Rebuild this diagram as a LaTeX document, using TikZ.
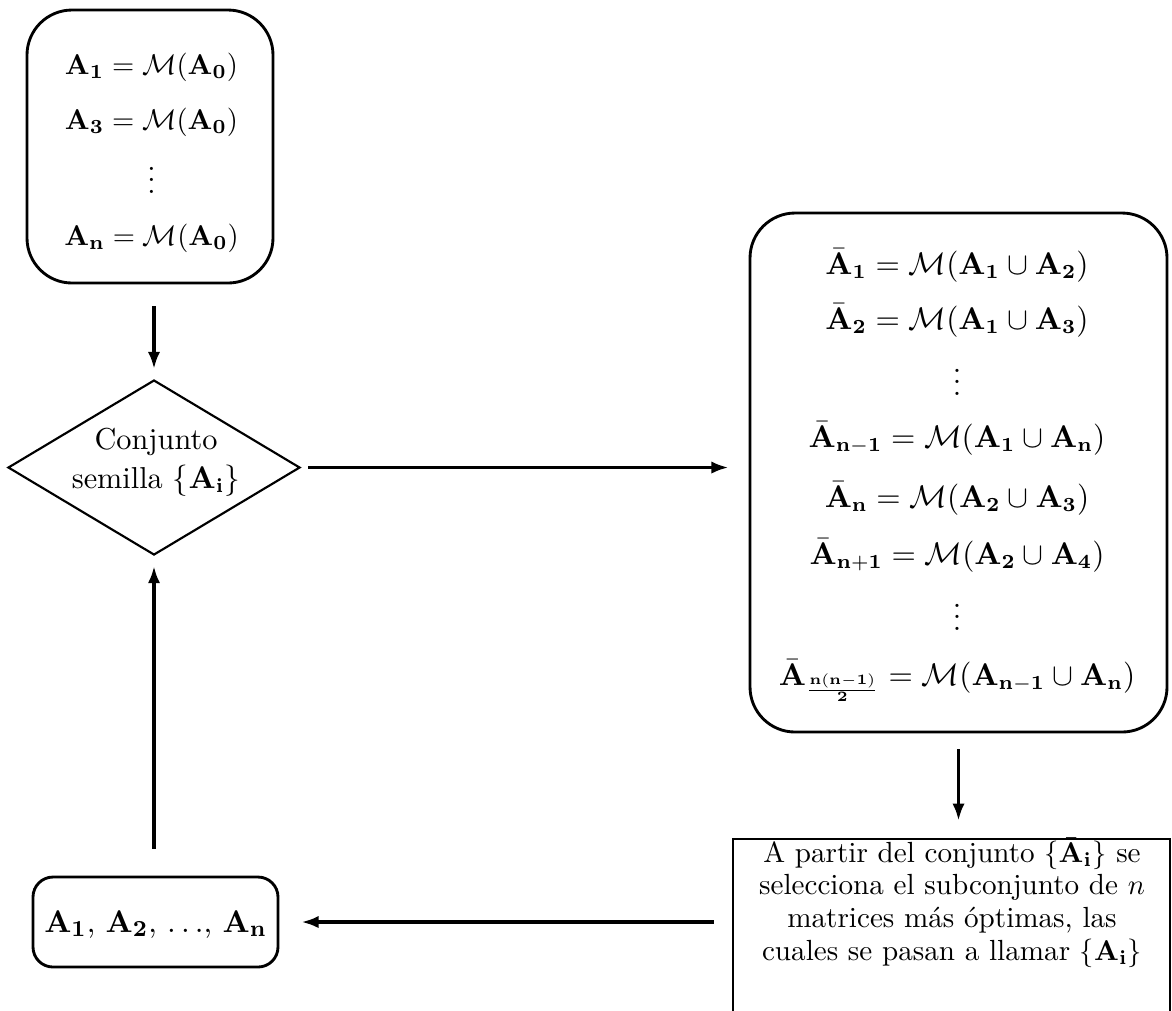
\documentclass[tikz,border=0pt]{standalone}
\usepackage{amsmath}
\usetikzlibrary{shapes.geometric,arrows.meta}
\begin{document}
\begin{tikzpicture}[x=0.35pt,y=-0.35pt,
  rbox/.style={draw,line width=1pt,inner sep=0pt},
  txt/.style={inner sep=0pt,font=\fontsize{10.4}{12}\selectfont},
  rtxt/.style={inner sep=0pt,font=\fontsize{10.6}{12}\selectfont},
  arr/.style={-{Latex[length=6pt,width=4.3pt]},line width=1.15pt}]
\useasboundingbox (0,0) rectangle (1172,1010);
% top box
\node[rbox,rounded corners=15.75pt,minimum width=86.1pt,minimum height=95.55pt] (top) at (150,146.5) {};
\node[txt,anchor=base] (t1) at (151.5,74) {$\mathbf{A_1}=\mathcal{M}(\mathbf{A_0})$};
\node[txt,anchor=base] (t2) at (151.5,129) {$\mathbf{A_3}=\mathcal{M}(\mathbf{A_0})$};
\node[txt,anchor=base] (t3) at (151.5,193) {$\vdots$};
\node[txt,anchor=base] (t4) at (151.5,245) {$\mathbf{A_n}=\mathcal{M}(\mathbf{A_0})$};
% diamond
\node[draw,diamond,line width=0.75pt,aspect=1.67,minimum width=102.2pt,minimum height=61.25pt,inner sep=0pt] (dia) at (154,467.5) {};
\node[txt,anchor=base,font=\fontsize{10.6}{12}\selectfont] (d1) at (156,449) {Conjunto};
\node[txt,anchor=base,font=\fontsize{10.6}{12}\selectfont] (d2) at (156,488) {semilla $\{\mathbf{A_i}\}$};
% right box
\node[rbox,rounded corners=15.75pt,minimum width=145.95pt,minimum height=181.65pt] (rb) at (958.5,472.5) {};
\node[rtxt,anchor=base] (r1) at (957,274) {$\bar{\mathbf{A}}_{\mathbf{1}}=\mathcal{M}(\mathbf{A_1}\cup\mathbf{A_2})$};
\node[rtxt,anchor=base] (r2) at (957,329) {$\bar{\mathbf{A}}_{\mathbf{2}}=\mathcal{M}(\mathbf{A_1}\cup\mathbf{A_3})$};
\node[rtxt,anchor=base] (r3) at (957,395) {$\vdots$};
\node[rtxt,anchor=base] (r4) at (957,447) {$\bar{\mathbf{A}}_{\mathbf{n-1}}=\mathcal{M}(\mathbf{A_1}\cup\mathbf{A_n})$};
\node[rtxt,anchor=base] (r5) at (957,507) {$\bar{\mathbf{A}}_{\mathbf{n}}=\mathcal{M}(\mathbf{A_2}\cup\mathbf{A_3})$};
\node[rtxt,anchor=base] (r6) at (957,564) {$\bar{\mathbf{A}}_{\mathbf{n+1}}=\mathcal{M}(\mathbf{A_2}\cup\mathbf{A_4})$};
\node[rtxt,anchor=base] (r7) at (957,630) {$\vdots$};
\node[rtxt,anchor=base] (r8) at (957,685) {$\bar{\mathbf{A}}_{\mathbf{\frac{n(n-1)}{2}}}=\mathcal{M}(\mathbf{A}_{\mathbf{n-1}}\cup\mathbf{A_n})$};
% bottom right box (its lower edge lies below the picture)
\node[draw,line width=0.85pt,inner sep=0pt,minimum width=152.95pt,minimum height=66pt] (br) at (951.5,933.3) {};
\node[txt,anchor=base,font=\fontsize{10.2}{12}\selectfont] (b1) at (952,862) {A partir del conjunto $\{\bar{\mathbf{A}}_{\mathbf{i}}\}$ se};
\node[txt,anchor=base,font=\fontsize{10.2}{12}\selectfont] (b2) at (952,894) {selecciona el subconjunto de $n$};
\node[txt,anchor=base,font=\fontsize{10.2}{12}\selectfont] (b3) at (952,927) {matrices más óptimas, las};
\node[txt,anchor=base,font=\fontsize{10.2}{12}\selectfont] (b4) at (952,960) {cuales se pasan a llamar $\{\mathbf{A_i}\}$};
% bottom left box
\node[rbox,rounded corners=7pt,minimum width=85.75pt,minimum height=31.5pt] (bl) at (155.5,922) {};
\node[txt,anchor=base,font=\fontsize{10.8}{12}\selectfont] (l1) at (155.5,932) {$\mathbf{A_1}$, $\mathbf{A_2}$, $\ldots$, $\mathbf{A_n}$};
% connectors
\draw[arr,shorten <=7.7pt,shorten >=3.5pt] (dia.north |- top.south) -- (dia.north);
\draw[arr,shorten <=2.45pt,shorten >=7pt] (dia.east) -- (dia.east -| rb.west);
\draw[arr,shorten <=5.6pt,shorten >=6pt] (rb.south) -- (rb.south |- br.north);
\draw[arr,shorten <=6.3pt,shorten >=7.7pt] (br.west |- bl.east) -- (bl.east);
\draw[arr,shorten <=9.45pt,shorten >=3.5pt] (dia.south |- bl.north) -- (dia.south);
\end{tikzpicture}
\end{document}
